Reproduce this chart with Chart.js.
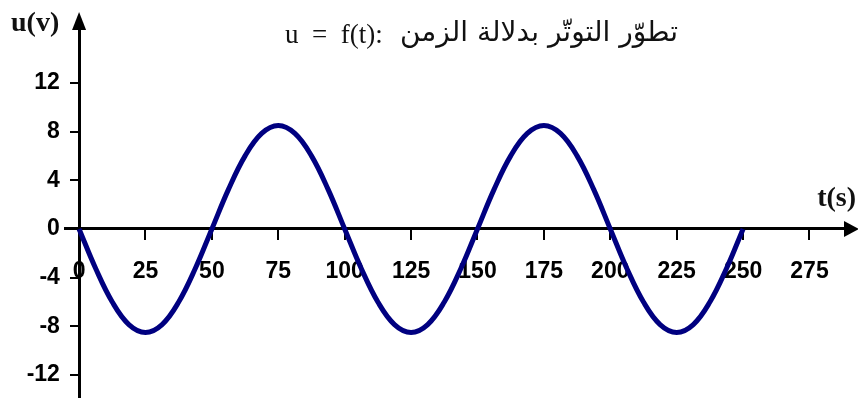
<!DOCTYPE html>
<html>
<head>
<meta charset="utf-8">
<script src="https://cdn.jsdelivr.net/npm/chart.js@4/dist/chart.umd.min.js"></script>
<style>
  html, body { margin: 0; padding: 0; background: #fff; }
  #wrap { width: 858px; height: 401px; position: relative; }
</style>
</head>
<body>
<div id="wrap"><canvas id="chart-u"></canvas></div>
<script>
// temps (s) et tension (V)
var tValues = [0, 6.25, 12.5, 18.75, 25, 31.25, 37.5, 43.75, 50, 56.25, 62.5, 68.75, 75, 81.25, 87.5, 93.75,
  100, 106.25, 112.5, 118.75, 125, 131.25, 137.5, 143.75, 150, 156.25, 162.5, 168.75, 175, 181.25, 187.5, 193.75,
  200, 206.25, 212.5, 218.75, 225, 231.25, 237.5, 243.75, 250];
var uValues = [0, -3.25, -6.0, -7.85, -8.5, -7.85, -6.0, -3.25, 0, 3.25, 6.0, 7.85, 8.5, 7.85, 6.0, 3.25,
  0, -3.25, -6.0, -7.85, -8.5, -7.85, -6.0, -3.25, 0, 3.25, 6.0, 7.85, 8.5, 7.85, 6.0, 3.25,
  0, -3.25, -6.0, -7.85, -8.5, -7.85, -6.0, -3.25, 0];
var xTicks = [0, 25, 50, 75, 100, 125, 150, 175, 200, 225, 250, 275];
var yTicks = [-12, -8, -4, 0, 4, 8, 12];

var titreLatin = 'u\u2002=\u2002f(t):';
var titreArabe = 'تطوّر التوتّر بدلالة الزمن';
var labelY = 'u(v)';
var labelX = 't(s)';

var fontTicks = '"Liberation Sans", Arial, sans-serif';

// fleches + textes
var decorPlugin = {
  id: 'decor',
  afterDraw: function(chart) {
    var c = chart.ctx;
    var area = chart.chartArea;
    var x0 = chart.scales.x.getPixelForValue(0);
    var y0 = chart.scales.y.getPixelForValue(0);
    c.save();
    c.fillStyle = '#000';
    // fleche axe y
    c.beginPath();
    c.moveTo(x0, area.top - 16);
    c.lineTo(x0 - 7, area.top + 2);
    c.lineTo(x0 + 7, area.top + 2);
    c.closePath();
    c.fill();
    // fleche axe x
    c.beginPath();
    c.moveTo(area.right + 11, y0);
    c.lineTo(area.right - 4, y0 - 8);
    c.lineTo(area.right - 4, y0 + 8);
    c.closePath();
    c.fill();

    c.fillStyle = '#111';
    c.textBaseline = 'alphabetic';
    c.font = 'bold 28px "Liberation Serif", "Times New Roman", serif';
    c.textAlign = 'left';
    c.fillText(labelY, 11, 31);
    c.textAlign = 'right';
    c.fillText(labelX, 856, 206);

    c.font = '27px "Liberation Serif", "Times New Roman", serif';
    c.textAlign = 'left';
    c.fillText(titreLatin, 285, 43);
    c.font = '28px "DejaVu Sans", sans-serif';
    c.textAlign = 'right';
    c.fillText(titreArabe, 678, 41);
    c.restore();
  }
};

function sansPadding(axis) {
  axis.paddingTop = 0;
  axis.paddingBottom = 0;
  axis.paddingLeft = 0;
  axis.paddingRight = 0;
}

var ctx = document.getElementById('chart-u');
new Chart(ctx, {
  type: 'line',
  data: {
    datasets: [{
      data: tValues.map(function(t, i) { return { x: t, y: uValues[i] }; }),
      borderColor: '#000080',
      borderWidth: 5,
      pointRadius: 0,
      tension: 0.4,
      fill: false
    }]
  },
  options: {
    responsive: true,
    maintainAspectRatio: false,
    animation: false,
    layout: { padding: { left: 65, right: 10, top: 28, bottom: 4 } },
    plugins: { legend: { display: false }, tooltip: { enabled: false }, title: { display: false } },
    scales: {
      x: {
        type: 'linear',
        position: { y: 0 },
        min: -5.3,
        max: 289.5,
        afterBuildTicks: function(axis) { axis.ticks = xTicks.map(function(v) { return { value: v }; }); },
        afterFit: function(axis) { axis.height = 0; sansPadding(axis); },
        grid: { drawOnChartArea: false, drawTicks: true, tickLength: 10, color: '#000', lineWidth: 2 },
        border: { color: '#000', width: 3 },
        ticks: { color: '#000', autoSkip: false, maxRotation: 0, padding: 19,
          font: { family: fontTicks, size: 23, weight: 'bold' } }
      },
      y: {
        type: 'linear',
        position: { x: 0 },
        min: -13.8,
        max: 16.5,
        afterBuildTicks: function(axis) { axis.ticks = yTicks.map(function(v) { return { value: v }; }); },
        afterFit: function(axis) { axis.width = 0; sansPadding(axis); },
        grid: { drawOnChartArea: false, drawTicks: true, tickLength: 8, color: '#000', lineWidth: 2 },
        border: { color: '#000', width: 3 },
        ticks: { color: '#000', autoSkip: false, padding: 0,
          // decalage du texte a gauche de l'axe
          callback: function(v) { return v + '   '; },
          font: { family: fontTicks, size: 23, weight: 'bold' } }
      }
    }
  },
  plugins: [decorPlugin]
});
</script>
</body>
</html>
